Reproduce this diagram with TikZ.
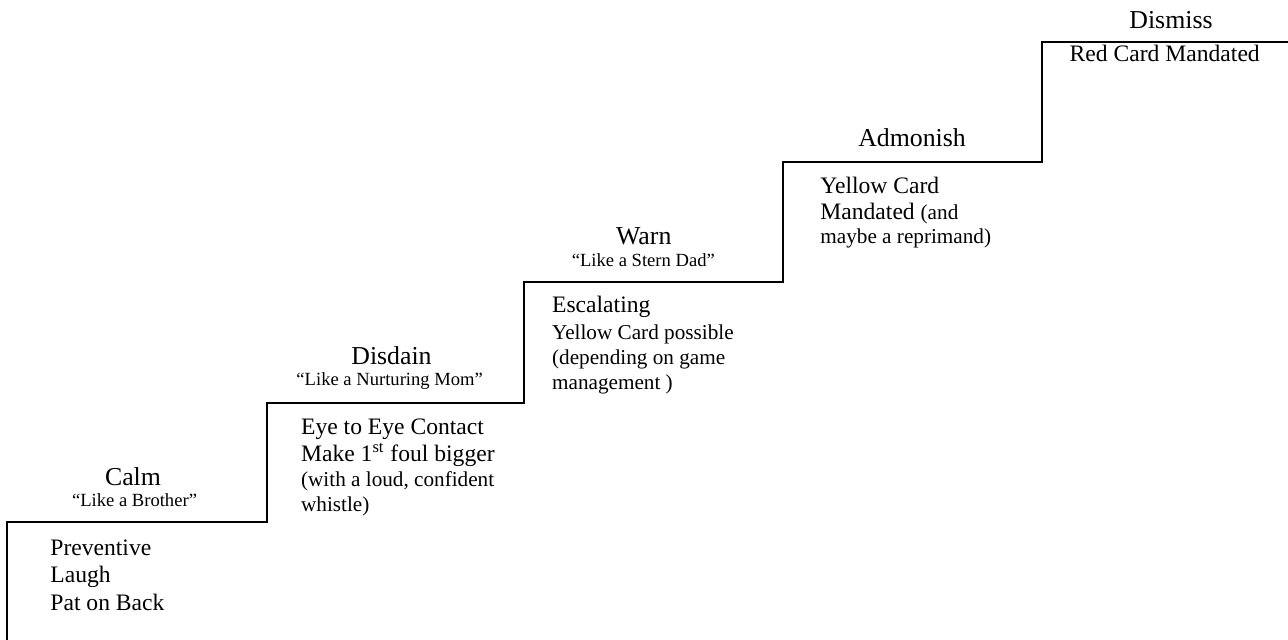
\documentclass[tikz,border=0pt]{standalone}
\usepackage{fontspec}
\setmainfont{Liberation Serif}
\newcommand{\bodyfont}{\fontsize{11.8}{13}\selectfont}
\newcommand{\notefont}{\fontsize{10.6}{12}\selectfont}
\newcommand{\stepfont}{\fontsize{12.9}{15}\selectfont}
\newcommand{\quotefont}{\fontsize{9.3}{11}\selectfont}
\tikzset{
  stair/.style={line width=1pt, line join=miter},
  steptitle/.style={anchor=base, inner sep=0pt, font=\stepfont},
  stepquote/.style={anchor=base, inner sep=0pt, font=\quotefont},
  body/.style={anchor=base west, inner sep=0pt, font=\bodyfont},
  note/.style={anchor=base west, inner sep=0pt, font=\notefont}
}
\begin{document}
\begin{tikzpicture}[x=0.5pt, y=-0.5pt]
  \useasboundingbox (0,0) rectangle (1288,640);
  % corners of the staircase
  \coordinate (s0) at (7,640);
  \coordinate (s1) at (7,522);
  \coordinate (s2) at (267,522);
  \coordinate (s3) at (267,403);
  \coordinate (s4) at (524,403);
  \coordinate (s5) at (524,282);
  \coordinate (s6) at (783,282);
  \coordinate (s7) at (783,162);
  \coordinate (s8) at (1042,162);
  \coordinate (s9) at (1042,42);
  \coordinate (s10) at (1288,42);
  \draw [stair] (s0) -- (s1) -- (s2) -- (s3) -- (s4) -- (s5) -- (s6) -- (s7) -- (s8) -- (s9) -- (s10);
  % step names
  \foreach \n/\x/\y/\t in {calm/133/485/Calm, disdain/391.5/365/Disdain, warn/643.8/245/Warn,
    admonish/912/146.7/Admonish, dismiss/1171/28.3/Dismiss}
  \node [steptitle] (\n) at (\x,\y) {\t};
  \foreach \n/\x/\y/\t in {calmq/134.5/506.7/Brother, disdainq/389.7/386/Nurturing Mom,
    warnq/643.3/266.7/Stern Dad}
  \node [stepquote] (\n) at (\x,\y) {``Like a \t''};
  % what to do on each step
  \node [body] (calm1) at (50,555) {Preventive};
  \node [body] (calm2) at (50,582.7) {Laugh};
  \node [body] (calm3) at (50,610) {Pat on Back};
  \node [body] (disdain1) at (300.7,435) {Eye to Eye Contact};
  \node [body] (disdain2) at (300.7,461.7) {Make 1\textsuperscript{st} foul bigger};
  \node [note] (disdain3) at (300.7,486.7) {(with a loud, confident};
  \node [note] (disdain4) at (300.7,511.7) {whistle)};
  \node [body] (warn1) at (551.7,312.7) {Escalating};
  \node [note] (warn2) at (551.7,340) {Yellow Card possible};
  \node [note] (warn3) at (551.7,365) {(depending on game};
  \node [note] (warn4) at (551.7,389.3) {management )};
  \node [body] (admonish1) at (820,194) {Yellow Card};
  \node [body] (admonish2) at (820,220) {Mandated {\notefont (and}};
  \node [note] (admonish3) at (820,243.3) {maybe a reprimand)};
  \node [body] (dismiss1) at (1069.3,61.7) {Red Card Mandated};
\end{tikzpicture}
\end{document}
